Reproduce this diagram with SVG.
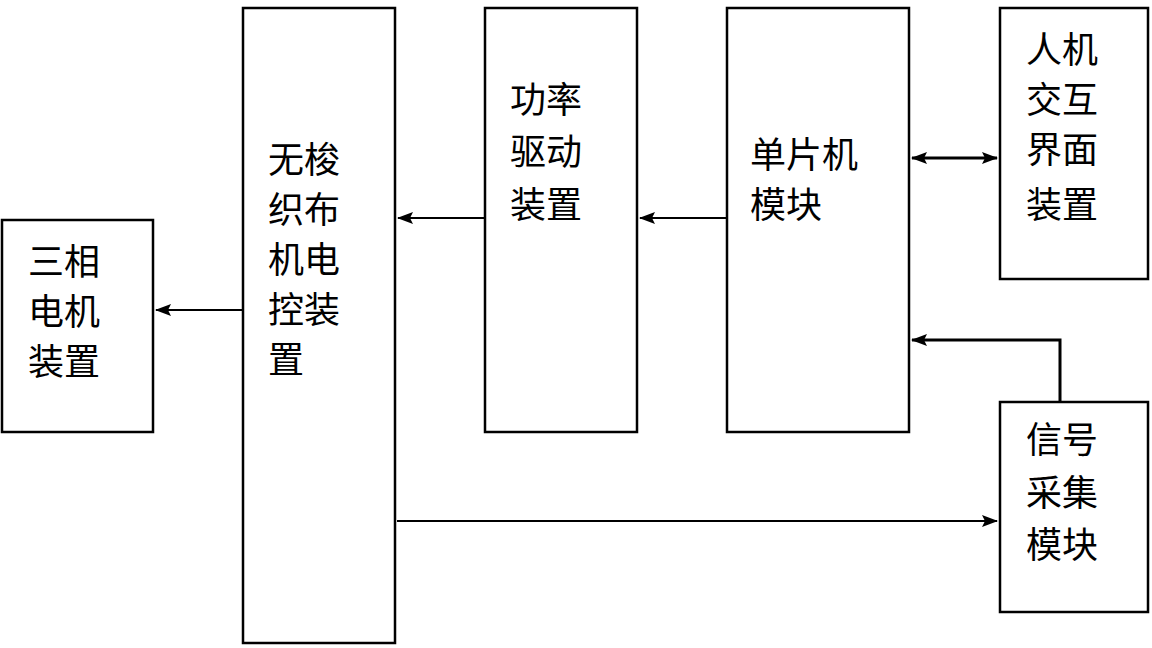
<svg xmlns="http://www.w3.org/2000/svg" width="1152" height="648" viewBox="0 0 1152 648">
<style>
rect{fill:#fff;stroke:#000;stroke-width:2.5}
text{font-family:"Noto Sans CJK SC",sans-serif;font-size:36px;fill:#000}
.c{fill:none;stroke:#000;stroke-width:2}
</style>
<defs><marker id="a" markerWidth="16" markerHeight="12" refX="15" refY="6" orient="auto-start-reverse" markerUnits="userSpaceOnUse"><path d="M0,0L16,6L0,12L3,6Z" fill="#000"/></marker></defs>
<rect width="1152" height="648" style="stroke:none"/>
<g id="n1"><rect x="2" y="220" width="151" height="212"/><text x="28" y="275">三相</text><text x="28" y="325">电机</text><text x="28" y="375">装置</text></g>
<g id="n2"><rect x="243" y="8" width="152" height="635"/><text x="268" y="173">无梭</text><text x="268" y="223">织布</text><text x="268" y="273">机电</text><text x="268" y="323">控装</text><text x="268" y="373">置</text></g>
<g id="n3"><rect x="485" y="8" width="152" height="424"/><text x="510" y="113">功率</text><text x="510" y="165">驱动</text><text x="510" y="218">装置</text></g>
<g id="n4"><rect x="727" y="8" width="182" height="424"/><text x="750" y="168">单片机</text><text x="750" y="218">模块</text></g>
<g id="n5"><rect x="1000" y="8" width="148" height="271"/><text x="1026" y="63">人机</text><text x="1026" y="113">交互</text><text x="1026" y="163">界面</text><text x="1026" y="218">装置</text></g>
<g id="n6"><rect x="1000" y="402" width="148" height="210"/><text x="1026" y="453">信号</text><text x="1026" y="506">采集</text><text x="1026" y="558">模块</text></g>
<g id="conn">
<path class="c" d="M243,310H156" marker-end="url(#a)"/>
<path class="c" d="M485,218H398" marker-end="url(#a)"/>
<path class="c" d="M727,218H640" marker-end="url(#a)"/>
<path class="c" style="stroke-width:3" d="M912,158H997" marker-start="url(#a)" marker-end="url(#a)"/>
<path class="c" style="stroke-width:3" d="M1060,402V340H912" marker-end="url(#a)"/>
<path class="c" d="M397,521H997" marker-end="url(#a)"/>
</g>
</svg>
